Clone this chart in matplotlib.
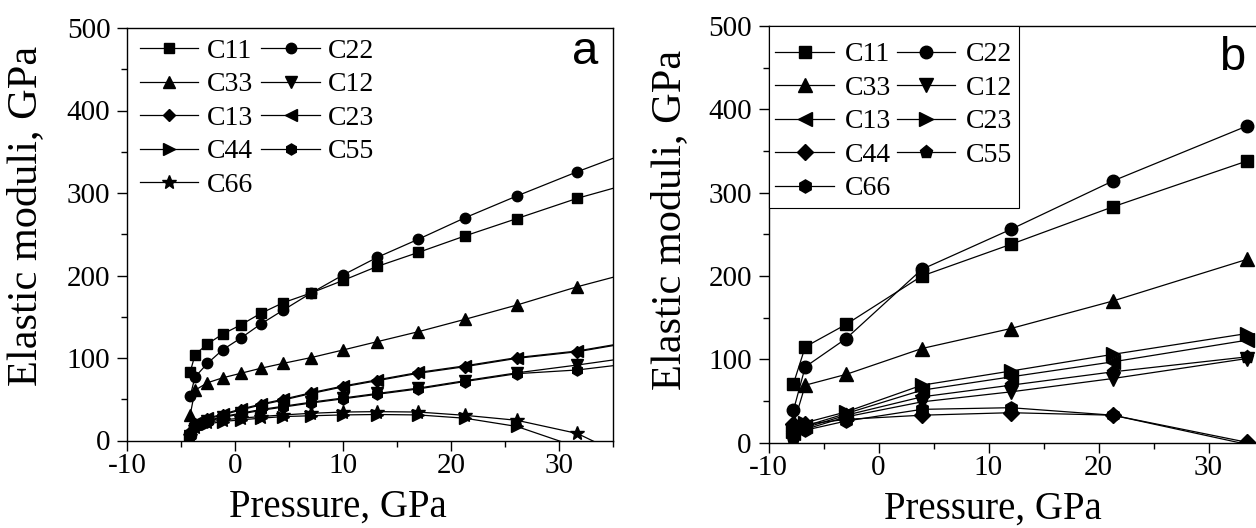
import matplotlib
matplotlib.use("Agg")
import matplotlib.pyplot as plt
from matplotlib.ticker import MultipleLocator

plt.rcParams['font.family'] = ['Liberation Serif', 'DejaVu Serif']
plt.rcParams['axes.unicode_minus'] = False

# ---- panel (a): elastic constants vs pressure ----
pressure_a = [-4.15, -3.7, -2.55, -1.14, 0.52, 2.37, 4.46, 7.08, 10.0, 13.17,
              16.98, 21.3, 26.1, 31.7, 37.5]
a_C11 = [83, 104, 117, 129, 140, 154, 167, 179, 194, 211, 228, 248, 269, 293.6, 314.8]
a_C22 = [54, 77, 93.5, 110, 124, 141, 158, 179, 200.6, 222, 244, 270, 296.4, 325.8, 354.3]
a_C33 = [31, 61, 70, 76, 81.4, 87.5, 93.5, 100.6, 109.7, 119.8, 131.9, 146.9, 164.2, 186.4, 206.5]
a_C12 = [6, 17, 24, 29, 33, 37.5, 41.5, 46.5, 51.5, 57, 63.5, 72.5, 82, 91.5, 102.2]
a_C13 = [10, 20, 26, 31, 37, 43, 49, 57, 65, 72.5, 81.5, 89.5, 99.6, 107.6, 120.6]
a_C23 = [11, 21, 27, 32, 38, 44, 50, 58, 66, 73.5, 82.5, 90.5, 100.5, 108.5, 121.5]
a_C44 = [3, 14, 20, 23, 25, 27, 29, 30, 31, 31.5, 31, 27, 17, -8, -30]
a_C55 = [5, 16, 23, 28, 32, 36.5, 40.5, 45.5, 50.5, 56, 62.5, 71.5, 81, 85.5, 94.6]
a_C66 = [5, 16, 22, 25, 27, 29, 31, 33, 34.5, 35, 34.5, 30.5, 24.5, 8.5, -28]

# ---- panel (b) ----
pressure_b = [-7.73, -6.66, -2.94, 3.94, 12.03, 21.3, 33.5]
b_C11 = [71, 115, 142, 200, 238, 283, 338]
b_C22 = [39, 91, 125, 208, 256, 314, 380]
b_C33 = [22, 69, 82, 113, 137, 170, 220]
b_C12 = [3, 16, 31, 49, 61, 77, 101]
b_C13 = [12, 20, 35, 63, 79, 97, 123]
b_C23 = [14, 24, 37, 69, 86, 106, 131]
b_C44 = [23, 22, 28, 33, 36, 33, 0.5]
b_C55 = [4, 18, 33, 55, 69, 85, 103]
b_C66 = [20, 15, 26, 40, 42, 33, -2]

labels = ['C11', 'C22', 'C33', 'C12', 'C13', 'C23', 'C44', 'C55', 'C66']
series_a = [a_C11, a_C22, a_C33, a_C12, a_C13, a_C23, a_C44, a_C55, a_C66]
series_b = [b_C11, b_C22, b_C33, b_C12, b_C13, b_C23, b_C44, b_C55, b_C66]
markers_a = ['s', 'o', '^', 'v', 'D', '<', '>', 'h', '*']
markers_b = ['s', 'o', '^', 'v', '<', '>', 'D', 'p', 'h']

W, H = 1256, 528
fig = plt.figure(figsize=(W / 100, H / 100), dpi=100)
ax_a = fig.add_axes([127 / W, 1 - 440.5 / H, 486 / W, 412.5 / H])
ax_b = fig.add_axes([768.5 / W, 1 - 442.7 / H, 495 / W, 416.7 / H])

msize_a = {'s': 7, 'o': 7.5, '^': 8, 'v': 8, 'D': 6.5, '<': 8, '>': 8, 'h': 8, '*': 10}
msize_b = {'s': 8.5, 'o': 9, '^': 9.5, 'v': 9.5, '<': 9.5, '>': 9.5, 'D': 8, 'p': 9.5, 'h': 9.5}

handles_a = []
for lab, ys, m in zip(labels, series_a, markers_a):
    h, = ax_a.plot(pressure_a, ys, color='black', lw=0.9, marker=m,
                   ms=msize_a[m], mfc='black', mec='black', label=lab)
    handles_a.append(h)

handles_b = []
for lab, ys, m in zip(labels, series_b, markers_b):
    h, = ax_b.plot(pressure_b, ys, color='black', lw=0.9, marker=m,
                   ms=msize_b[m], mfc='black', mec='black', label=lab)
    handles_b.append(h)

for ax in (ax_a, ax_b):
    ax.set_xlim(-10, 35)
    ax.set_ylim(0, 500)
    ax.xaxis.set_major_locator(MultipleLocator(10))
    ax.xaxis.set_minor_locator(MultipleLocator(5))
    ax.yaxis.set_major_locator(MultipleLocator(100))
    ax.yaxis.set_minor_locator(MultipleLocator(50))
    ax.tick_params(which='major', direction='out', length=7, width=1.0,
                   labelsize=21)
    ax.tick_params(axis='x', which='major', pad=2)
    ax.tick_params(axis='y', which='major', pad=5)
    ax.tick_params(which='minor', direction='out', length=4, width=1.0)
    for sp in ax.spines.values():
        sp.set_linewidth(1.0)
    ax.set_xlabel('Pressure, GPa', fontsize=28, va='center')
    ax.set_ylabel('Elastic moduli, GPa', fontsize=30.5, va='center')

ax_a.xaxis.set_label_coords(0.433, -0.161)
ax_a.yaxis.set_label_coords(-0.208, 0.545)
ax_b.xaxis.set_label_coords(0.4535, -0.16)
ax_b.yaxis.set_label_coords(-0.199, 0.534)

# legend of (a): row-wise pairs, no frame
order = [0, 2, 4, 6, 8, 1, 3, 5, 7]
ax_a.legend([handles_a[i] for i in order], [labels[i] for i in order],
            ncol=2, loc='upper left', bbox_to_anchor=(0.027, 0.975),
            frameon=False, fontsize=20, handlelength=2.1, handletextpad=0.3,
            columnspacing=0.3, labelspacing=0.29, borderaxespad=0, borderpad=0)

# legend of (b): framed box in the corner
leg_b = ax_b.legend([handles_b[i] for i in order], [labels[i] for i in order],
                    ncol=2, loc='upper left', bbox_to_anchor=(0.0, 1.0),
                    frameon=True, fancybox=False, framealpha=1, edgecolor='black',
                    fontsize=20, handlelength=2.1, handletextpad=0.4,
                    columnspacing=0.2, labelspacing=0.29, borderaxespad=0,
                    borderpad=0.25, title=' ', title_fontsize=1)
leg_b.get_frame().set_linewidth(0.8)

ax_a.text(0.942, 0.942, 'a', transform=ax_a.transAxes, fontsize=34,
          family='Liberation Sans', ha='center', va='center')
ax_b.text(0.936, 0.923, 'b', transform=ax_b.transAxes, fontsize=34,
          family='Liberation Sans', ha='center', va='center')

fig.savefig('out.png', dpi=100)
